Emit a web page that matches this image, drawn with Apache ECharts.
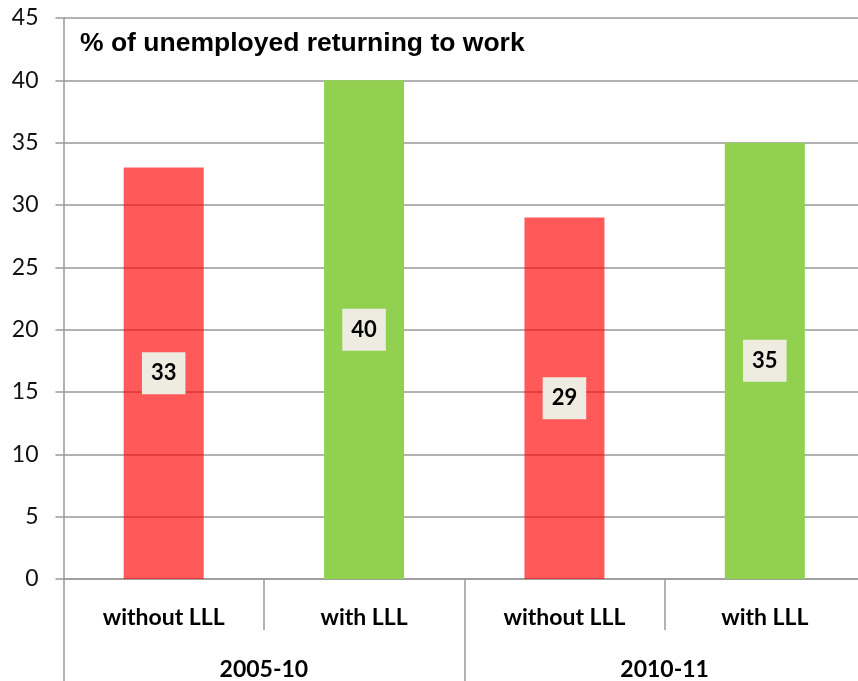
<!DOCTYPE html>
<html>
<head>
<meta charset="utf-8">
<script src="https://cdn.jsdelivr.net/npm/echarts@6/dist/echarts.min.js"></script>
<style>
  html, body { margin: 0; padding: 0; background: #fff; overflow: hidden; }
  /* the plot runs slightly past the right edge of the window */
  #chart { width: 866px; height: 681px; }
</style>
</head>
<body>
<div id="chart"></div>
<script>
// Share of unemployed people returning to work, with and without lifelong learning (LLL)
const titleText = '% of unemployed returning to work';
const categories = ['without LLL', 'with LLL', 'without LLL', 'with LLL'];
const periods = ['2005-10', '2010-11'];
const values = [33, 40, 29, 35];
const yMin = 0, yMax = 45, yStep = 5;

const barColors = {
  'without LLL': 'rgba(255, 0, 0, 0.65)',
  'with LLL': '#92D050'
};

const gridColor = '#999999';
const catFont = 'Lato, "Open Sans", sans-serif';

const chart = echarts.init(document.getElementById('chart'), null, { renderer: 'canvas' });

chart.setOption({
  animation: false,
  backgroundColor: '#ffffff',
  title: {
    text: titleText,
    left: 75,
    top: 25,
    textStyle: {
      fontFamily: '"Liberation Sans", Arial, sans-serif',
      fontWeight: 'bold',
      fontSize: 26.5,
      color: '#000'
    }
  },
  grid: { left: 63.5, top: 18, right: 1, bottom: 102, containLabel: false },
  xAxis: [
    {
      type: 'category',
      data: categories,
      position: 'bottom',
      axisLine: { show: true, lineStyle: { color: gridColor, width: 1.5 } },
      axisTick: { show: true, interval: 0, length: 51, lineStyle: { color: gridColor, width: 1.5 } },
      axisLabel: {
        interval: 0,
        margin: 27,
        color: '#000',
        fontFamily: catFont,
        fontWeight: 'bold',
        fontSize: 23
      }
    },
    {
      type: 'category',
      data: periods,
      position: 'bottom',
      axisLine: { show: false },
      axisTick: { show: true, interval: 0, length: 110, lineStyle: { color: gridColor, width: 1.5 } },
      axisLabel: {
        interval: 0,
        margin: 79,
        color: '#000',
        fontFamily: catFont,
        fontWeight: 'bold',
        fontSize: 23
      }
    }
  ],
  yAxis: {
    type: 'value',
    min: yMin,
    max: yMax,
    interval: yStep,
    axisLine: { show: true, lineStyle: { color: gridColor, width: 1.5 } },
    axisTick: { show: true, length: 8, lineStyle: { color: gridColor, width: 1.5 } },
    axisLabel: {
      margin: 25,
      color: '#111',
      fontFamily: catFont,
      fontSize: 23
    },
    splitLine: { show: true, lineStyle: { color: gridColor, width: 1.5 } }
  },
  series: [
    {
      type: 'bar',
      xAxisIndex: 0,
      barWidth: 80,
      data: values.map((v, i) => ({
        value: v,
        itemStyle: { color: barColors[categories[i]] }
      })),
      label: {
        show: true,
        position: 'inside',
        color: '#000',
        fontFamily: catFont,
        fontWeight: 'bold',
        fontSize: 22,
        backgroundColor: '#EEECE1',
        padding: [10, 9, 10, 9],
        lineHeight: 22
      }
    }
  ]
});
</script>
</body>
</html>
